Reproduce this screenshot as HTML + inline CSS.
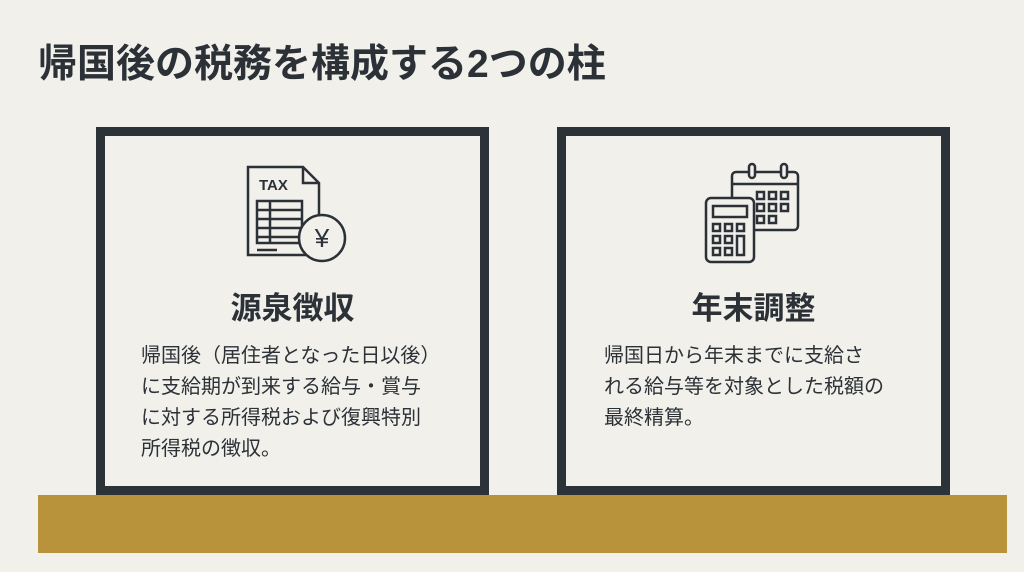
<!DOCTYPE html><html><head><meta charset="utf-8"><style>
body{margin:0;width:1024px;height:572px;background:#f1f0eb;position:relative;overflow:hidden;font-family:"Liberation Sans","Noto Sans CJK JP",sans-serif;color:#2b3136}
.t{position:absolute;left:38px;top:42px;font-size:39px;font-weight:bold;letter-spacing:0px;line-height:46px}
.box{position:absolute;top:127px;width:375px;height:350px;border:9px solid #2b3238}
.h{position:absolute;top:147px;left:0;width:100%;text-align:center;font-size:31px;font-weight:bold}
.p{position:absolute;top:205px;left:36px;font-size:20px;line-height:31px}
.bar{position:absolute;left:38px;top:495px;width:969px;height:58px;background:#b8933c}
svg{position:absolute}
</style></head><body>
<div class="t">帰国後の税務を構成する2つの柱</div>
<div class="box" style="left:96px">
<svg style="left:132px;top:24px" width="110" height="110" viewBox="0 0 110 110" fill="none" stroke="#2b3136" stroke-width="2.5">
<path d="M11 7h55l16 16v72h-71z"/><path d="M66 7v16h16"/>
<text x="22" y="30" font-size="15" font-weight="bold" fill="#2b3136" stroke="none" font-family="Liberation Sans">TAX</text>
<path d="M20 41h45v42h-45zM20 50h45M20 59h45M20 68h45M20 77h45M33 41v42"/><path d="M20 90h20"/>
<circle cx="85" cy="78" r="23" fill="#f1f0eb"/>
<text x="85" y="87" font-size="26" text-anchor="middle" fill="#2b3136" stroke="none">¥</text>
</svg>
<div class="h">源泉徴収</div>
<div class="p">帰国後（居住者となった日以後）<br>に支給期が到来する給与・賞与<br>に対する所得税および復興特別<br>所得税の徴収。</div>
</div>
<div class="box" style="left:557px">
<svg style="left:129px;top:24px" width="110" height="110" viewBox="0 0 110 110" fill="none" stroke="#2b3136" stroke-width="2.5">
<rect x="37" y="12" width="66" height="58" rx="4"/><path d="M37 24h66"/>
<rect x="54" y="4" width="6" height="14" rx="3" fill="#f1f0eb"/><rect x="86" y="4" width="6" height="14" rx="3" fill="#f1f0eb"/>
<path d="M62 32h7v7h-7zM74 32h7v7h-7zM86 32h7v7h-7zM62 44h7v7h-7zM74 44h7v7h-7zM86 44h7v7h-7zM62 56h7v7h-7zM74 56h7v7h-7z"/>
<rect x="11" y="38" width="48" height="64" rx="5" fill="#f1f0eb"/>
<rect x="18" y="46" width="34" height="11"/>
<path d="M18 64h7v7h-7zM30 64h7v7h-7zM42 64h7v7h-7zM18 76h7v7h-7zM30 76h7v7h-7zM42 76h7v19h-7zM18 88h7v7h-7zM30 88h7v7h-7z"/>
</svg>
<div class="h">年末調整</div>
<div class="p" style="left:38px">帰国日から年末までに支給さ<br>れる給与等を対象とした税額の<br>最終精算。</div>
</div>
<div class="bar"></div>
</body></html>
